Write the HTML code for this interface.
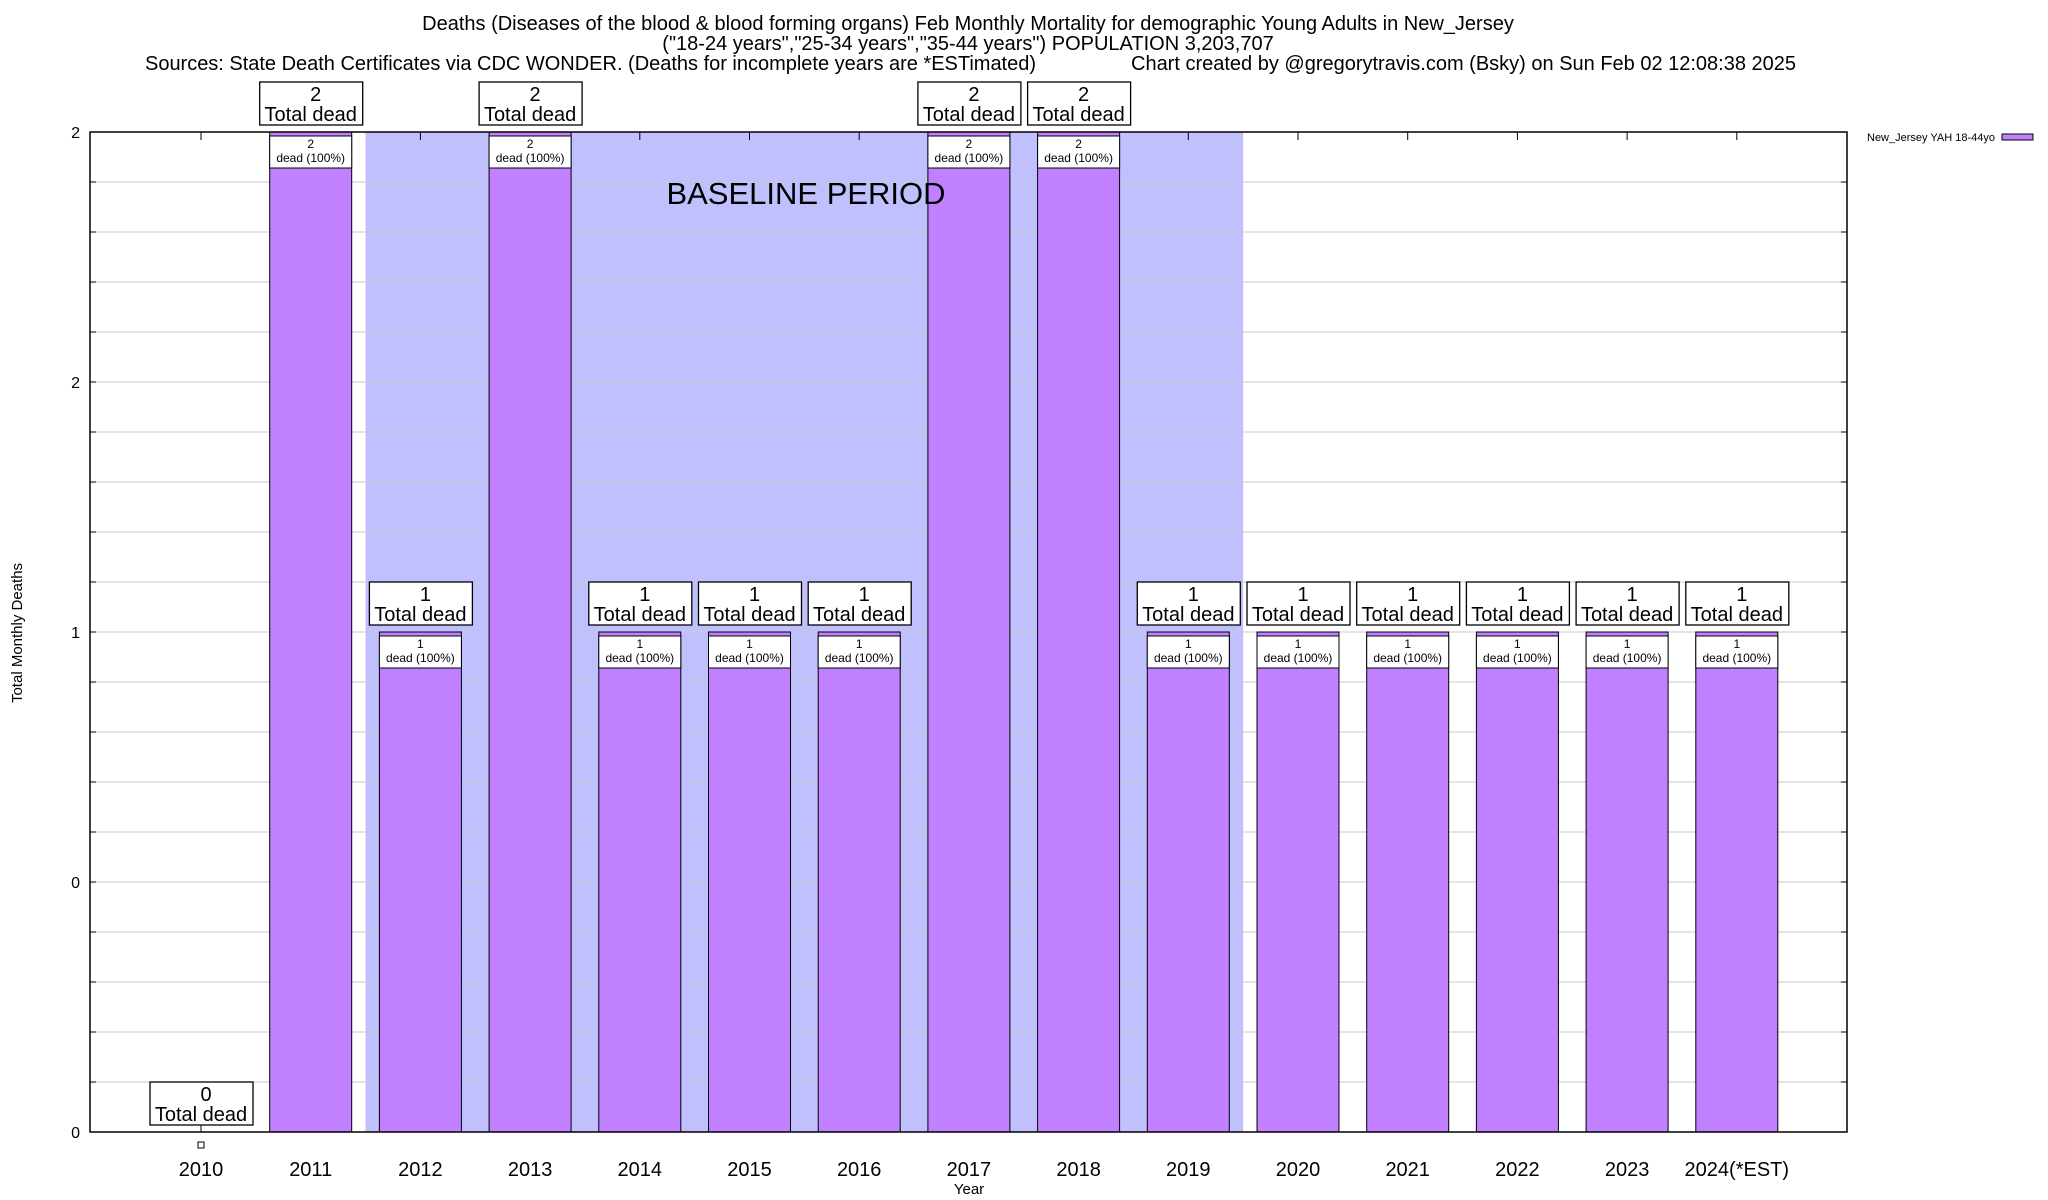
<!DOCTYPE html>
<html><head><meta charset="utf-8"><style>
html,body{margin:0;padding:0;background:#fff;}
svg{display:block;font-family:"Liberation Sans",Arial,sans-serif;}
</style></head><body>
<svg id="chart" width="2048" height="1200" viewBox="0 0 2048 1200" xmlns="http://www.w3.org/2000/svg">
<rect x="0" y="0" width="2048" height="1200" fill="#fff"/>
<g font-size="20" fill="#000">
<text x="968" y="30" text-anchor="middle">Deaths (Diseases of the blood &amp; blood forming organs) Feb Monthly Mortality for demographic Young Adults in New_Jersey</text>
<text x="968" y="50" text-anchor="middle">("18-24 years","25-34 years","35-44 years") POPULATION 3,203,707</text>
<text x="145" y="70" text-anchor="start" textLength="891">Sources: State Death Certificates via CDC WONDER. (Deaths for incomplete years are *ESTimated)</text>
<text x="1131" y="70" text-anchor="start" textLength="665">Chart created by @gregorytravis.com (Bsky) on Sun Feb 02 12:08:38 2025</text>
</g>
<g id="plot"></g>
<text x="22" y="633" font-size="15" text-anchor="middle" transform="rotate(-90 22 633)">Total Monthly Deaths</text>
<text x="969" y="1194" font-size="15" text-anchor="middle">Year</text>
<g>
<text x="1995" y="141" font-size="11" text-anchor="end">New_Jersey YAH 18-44yo</text>
<rect x="2002" y="134" width="31" height="6" fill="#c080ff" stroke="#000" stroke-width="1"/>
</g>
</svg>
<script>
const years = ["2010","2011","2012","2013","2014","2015","2016","2017","2018","2019","2020","2021","2022","2023","2024(*EST)"];
const deaths = [0,2,1,2,1,1,1,2,2,1,1,1,1,1,1];
const yTickValues = [0,0.5,1,1.5,2];
const yTickLabels = ["0","0","1","2","2"];
const baselineStart = 1.5, baselineEnd = 9.5;

const NS="http://www.w3.org/2000/svg";
const L=90,R=1847,T=132,B=1132;
const x0=201,step=109.7,bw=82;
const yMax=2;
function xs(i){return x0+i*step;}
function ys(v){return B-(v/yMax)*(B-T);}
const g=document.getElementById('plot');
function mk(tag,attrs,parent){const e=document.createElementNS(NS,tag);for(const k in attrs)e.setAttribute(k,attrs[k]);(parent||g).appendChild(e);return e;}

let sh=mk('rect',{x:xs(baselineStart),y:T,width:xs(baselineEnd)-xs(baselineStart),height:B-T,fill:'#c0c0ff'});


for(let k=1;k<20;k++){
  const y=ys(k*0.1);
  let gl=mk('line',{x1:L,x2:R,y1:y,y2:y,stroke:'#c8c8c8','stroke-width':1});
  
  
  mk('line',{x1:L,x2:L+6,y1:y,y2:y,stroke:'#000'});
  mk('line',{x1:R-6,x2:R,y1:y,y2:y,stroke:'#000'});
}
yTickValues.forEach((v,i)=>{
  let t=mk('text',{x:80,y:ys(v)+6,'font-size':16,'text-anchor':'end'});
  t.textContent=yTickLabels[i];
  
  
});
years.forEach((yr,i)=>{
  const cx=xs(i),v=deaths[i];
  mk('line',{x1:cx,x2:cx,y1:T,y2:T+8,stroke:'#000'});
  mk('line',{x1:cx,x2:cx,y1:B,y2:B-8,stroke:'#000'});
  let lbl=mk('text',{x:cx,y:1176,'font-size':20,'text-anchor':'middle'});
  lbl.textContent=yr;
  
  
  const top=ys(v);
  if(v>0){
    let b=mk('rect',{x:cx-bw/2,y:top,width:bw,height:B-top,fill:'#c080ff',stroke:'#000','stroke-width':1});
    
    
    let ib=mk('rect',{x:cx-bw/2,y:top+4,width:bw,height:32,fill:'#fff',stroke:'#000','stroke-width':1});
    
    
    let t1=mk('text',{x:cx,y:top+16,'font-size':12,'text-anchor':'middle'});t1.textContent=String(v);
    let t2=mk('text',{x:cx,y:top+30,'font-size':12,'text-anchor':'middle'});t2.textContent='dead (100%)';
  } else {
    let m=mk('rect',{x:cx-3,y:1142,width:6,height:6,fill:'#fff',stroke:'#000'});
    
    
  }
  const bb=(v>0?top:B)-50;
  let ob=mk('rect',{x:cx-51,y:bb,width:103,height:43,fill:'#fff',stroke:'#000','stroke-width':1.3});
  
  
  let a=mk('text',{x:cx+5,y:bb+19,'font-size':20,'text-anchor':'middle'});a.textContent=String(v);
  let c=mk('text',{x:cx,y:bb+39,'font-size':20,'text-anchor':'middle'});c.textContent='Total dead';
});
let bt=mk('text',{x:806,y:204,'font-size':31,'text-anchor':'middle'});
bt.textContent='BASELINE PERIOD';


let fr=mk('rect',{x:L,y:T,width:R-L,height:B-T,fill:'none',stroke:'#000','stroke-width':1.5});


</script>
</body></html>
